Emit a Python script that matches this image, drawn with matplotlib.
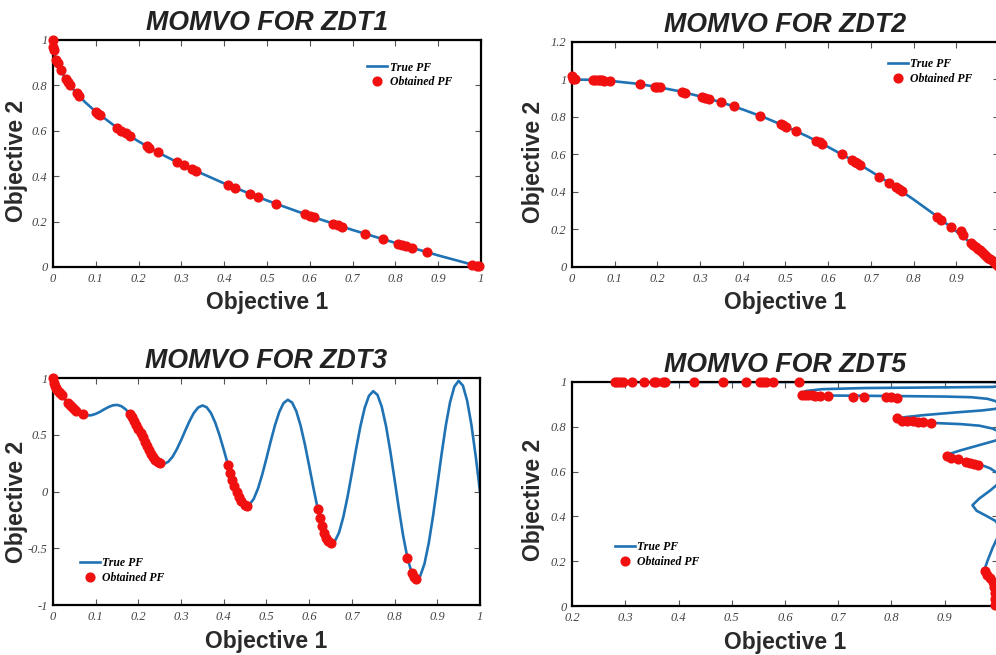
"""
MOMVO sobre los problemas ZDT1, ZDT2, ZDT3 y ZDT5.

Cuatro paneles: frente de Pareto verdadero (línea azul) contra el
frente obtenido (puntos rojos). Los paneles de la derecha quedan
cortados por el borde de la figura, igual que en la imagen original.
"""

import numpy as np
import matplotlib.pyplot as plt
from matplotlib.ticker import FuncFormatter

# --- ZDT1 ---
zdt1_true_x = [0.0, 0.001, 0.005, 0.01, 0.02, 0.035, 0.05, 0.075, 0.1, 0.15, 0.2, 0.25,
               0.3, 0.4, 0.5, 0.6, 0.7, 0.8, 0.9, 1.0]
zdt1_true_y = [1.0, 0.968, 0.929, 0.9, 0.859, 0.813, 0.776, 0.726, 0.684, 0.613, 0.553, 0.5,
               0.452, 0.368, 0.293, 0.225, 0.163, 0.106, 0.051, 0.0]
zdt1_obt_x = [0.0, 0.001, 0.002, 0.008, 0.012, 0.018, 0.03, 0.035, 0.04, 0.055, 0.06,
              0.1, 0.105, 0.11, 0.15, 0.16, 0.17, 0.18, 0.22, 0.225, 0.245, 0.29, 0.305,
              0.325, 0.335, 0.41, 0.425, 0.46, 0.48, 0.52, 0.59, 0.6, 0.61, 0.655, 0.665,
              0.675, 0.73, 0.77, 0.805, 0.815, 0.825, 0.84, 0.875, 0.98, 0.99, 0.995]
zdt1_obt_y = [1.0, 0.97, 0.956, 0.91, 0.9, 0.866, 0.826, 0.813, 0.8, 0.765, 0.755,
              0.684, 0.676, 0.668, 0.613, 0.6, 0.588, 0.576, 0.531, 0.526, 0.505, 0.461, 0.448,
              0.43, 0.421, 0.36, 0.348, 0.322, 0.307, 0.279, 0.232, 0.225, 0.219, 0.191, 0.185,
              0.178, 0.146, 0.123, 0.103, 0.097, 0.092, 0.083, 0.065, 0.01, 0.005, 0.003]

# --- ZDT2 ---
zdt2_true_x = [0.0, 0.05, 0.1, 0.15, 0.2, 0.25, 0.3, 0.35, 0.4, 0.45, 0.5, 0.55, 0.6,
               0.65, 0.7, 0.75, 0.8, 0.85, 0.9, 0.95, 1.0]
zdt2_true_y = [1.0, 0.998, 0.99, 0.978, 0.96, 0.938, 0.91, 0.878, 0.84, 0.798, 0.75, 0.698,
               0.64, 0.578, 0.51, 0.438, 0.36, 0.278, 0.19, 0.098, 0.0]
zdt2_obt_x = [0.0, 0.003, 0.008, 0.05, 0.055, 0.06, 0.065, 0.07, 0.075, 0.09, 0.16, 0.195,
              0.2, 0.205, 0.258, 0.265, 0.305, 0.312, 0.32, 0.35, 0.38, 0.44, 0.49, 0.495,
              0.502, 0.525, 0.572, 0.58, 0.585, 0.632, 0.655, 0.662, 0.668, 0.675, 0.72,
              0.742, 0.758, 0.765, 0.772, 0.855, 0.865, 0.888, 0.912, 0.915, 0.935, 0.94,
              0.945, 0.95, 0.955, 0.96, 0.965, 0.97, 0.975, 0.98, 0.985, 0.99, 0.995, 1.0]
zdt2_obt_y = [1.02, 1.0, 1.0, 0.998, 0.997, 0.996, 0.996, 0.995, 0.994, 0.992, 0.974, 0.962,
              0.96, 0.958, 0.933, 0.93, 0.907, 0.903, 0.898, 0.878, 0.856, 0.806, 0.76, 0.755,
              0.748, 0.724, 0.673, 0.664, 0.658, 0.6, 0.571, 0.562, 0.554, 0.544, 0.482,
              0.449, 0.425, 0.415, 0.404, 0.269, 0.252, 0.211, 0.19, 0.168, 0.126, 0.116,
              0.107, 0.098, 0.088, 0.078, 0.069, 0.059, 0.049, 0.04, 0.03, 0.02, 0.01, 0.0]

# --- ZDT3 ---
zdt3_true_x = [round(0.01 * i, 2) for i in range(101)]
zdt3_true_y = [1.0, 0.897, 0.847, 0.803, 0.762, 0.726, 0.698, 0.679, 0.670, 0.672,
               0.684, 0.702, 0.724, 0.744, 0.759, 0.763, 0.752, 0.725, 0.682, 0.623,
               0.553, 0.477, 0.402, 0.334, 0.282, 0.250, 0.243, 0.262, 0.306, 0.372,
               0.452, 0.539, 0.622, 0.693, 0.740, 0.758, 0.742, 0.691, 0.607, 0.496,
               0.368, 0.233, 0.105, -0.004, -0.082, -0.121, -0.115, -0.066, 0.025, 0.149,
               0.293, 0.444, 0.585, 0.701, 0.779, 0.808, 0.784, 0.706, 0.579, 0.414,
               0.225, 0.031, -0.152, -0.303, -0.409, -0.456, -0.440, -0.361, -0.224, -0.044,
               0.163, 0.377, 0.575, 0.737, 0.843, 0.884, 0.851, 0.746, 0.576, 0.355,
               0.106, -0.150, -0.388, -0.582, -0.715, -0.772, -0.745, -0.637, -0.455, -0.218,
               0.051, 0.327, 0.582, 0.788, 0.924, 0.975, 0.933, 0.800, 0.586, 0.311, 0.0]
zdt3_obt_x = [0.0, 0.002, 0.005, 0.008, 0.01, 0.013, 0.016, 0.02, 0.035, 0.04, 0.045,
              0.05, 0.055, 0.07,
              0.18, 0.185, 0.19, 0.195, 0.2, 0.205, 0.21, 0.215, 0.22, 0.225, 0.23, 0.235,
              0.24, 0.245, 0.25,
              0.41, 0.415, 0.42, 0.425, 0.43, 0.435, 0.44, 0.45, 0.455,
              0.62, 0.625, 0.63, 0.635, 0.64, 0.645, 0.65,
              0.83, 0.84, 0.845, 0.85]
zdt3_obt_y = [1.0, 0.955, 0.928, 0.909, 0.897, 0.881, 0.866, 0.847, 0.782, 0.762, 0.743,
              0.726, 0.711, 0.679,
              0.682, 0.654, 0.623, 0.589, 0.553, 0.515, 0.477, 0.439, 0.402, 0.367, 0.334,
              0.306, 0.282, 0.263, 0.25,
              0.233, 0.167, 0.105, 0.048, -0.004, -0.047, -0.082, -0.121, -0.124,
              -0.152, -0.232, -0.303, -0.363, -0.409, -0.44, -0.456,
              -0.582, -0.715, -0.754, -0.772]

# --- ZDT5 (curva leída punto a punto; parte de ella sale por la derecha) ---
zdt5_true_x = [0.28, 0.99, 1.005, 1.01, 1.005, 0.99, 0.9, 0.75, 0.67, 0.64, 0.63, 0.635,
               0.66, 0.72, 0.82, 0.9, 0.95, 0.98, 0.995, 1.005, 1.005, 0.995, 0.97, 0.92,
               0.86, 0.825, 0.81, 0.815, 0.84, 0.88, 0.93, 0.965, 0.99, 1.005, 1.01, 1.005,
               0.99, 0.96, 0.93, 0.91, 0.905, 0.915, 0.94, 0.965, 0.985, 0.998, 1.005, 1.0,
               0.985, 0.965, 0.952, 0.96, 0.98, 0.995, 1.005, 1.0, 0.99, 0.98, 0.975, 0.98,
               0.99, 0.993, 0.994, 0.994]
zdt5_true_y = [1.0, 1.0, 0.995, 0.99, 0.982, 0.978, 0.976, 0.973, 0.968, 0.96, 0.95, 0.943,
               0.94, 0.939, 0.937, 0.935, 0.932, 0.925, 0.915, 0.9, 0.89, 0.88, 0.873, 0.864,
               0.852, 0.843, 0.835, 0.828, 0.822, 0.817, 0.812, 0.805, 0.792, 0.775, 0.76, 0.745,
               0.735, 0.715, 0.695, 0.68, 0.67, 0.662, 0.648, 0.633, 0.615, 0.595, 0.57, 0.545,
               0.515, 0.48, 0.45, 0.425, 0.4, 0.38, 0.35, 0.31, 0.26, 0.2, 0.165, 0.14,
               0.115, 0.09, 0.05, 0.0]
zdt5_obt_x = [0.281, 0.285, 0.29, 0.295, 0.313, 0.335, 0.354, 0.358, 0.371, 0.375, 0.429,
              0.483, 0.526, 0.553, 0.558, 0.564, 0.577, 0.626,
              0.632, 0.638, 0.644, 0.65, 0.656, 0.665, 0.68, 0.727, 0.748, 0.789, 0.80, 0.81,
              0.81, 0.82, 0.83, 0.84, 0.85, 0.86, 0.875,
              0.904, 0.912, 0.925, 0.94, 0.948, 0.955, 0.963,
              0.975, 0.98, 0.985, 0.99, 0.993, 0.994, 0.994, 0.994]
zdt5_obt_y = [1.0, 1.0, 1.0, 1.0, 1.0, 1.0, 1.0, 1.0, 1.0, 1.0, 1.0,
              1.0, 1.0, 1.0, 1.0, 1.0, 1.0, 1.0,
              0.942, 0.941, 0.94, 0.94, 0.939, 0.938, 0.937, 0.935, 0.934, 0.932, 0.931, 0.93,
              0.84, 0.828, 0.826, 0.824, 0.822, 0.82, 0.818,
              0.67, 0.66, 0.655, 0.645, 0.64, 0.635, 0.63,
              0.155, 0.14, 0.125, 0.105, 0.085, 0.06, 0.03, 0.005]

BLUE = '#1f72b3'
RED = '#f01010'

plt.rcParams['font.family'] = 'Liberation Sans'


def fmt_tick(v, pos):
    # Etiquetas estilo MATLAB: sin ceros sobrantes
    return f'{v:g}'


def draw_panel(fig, rect, title, true_x, true_y, obt_x, obt_y,
               xlim, ylim, xticks, yticks, leg_anchor, ylab_pos):
    ax = fig.add_axes(rect)
    ax.plot(true_x, true_y, '-', color=BLUE, lw=1.9, label='True PF', zorder=2)
    ax.plot(obt_x, obt_y, 'o', color=RED, ms=6.3, mec=RED, label='Obtained PF',
            zorder=3, clip_on=False)

    ax.set_xlim(xlim)
    ax.set_ylim(ylim)
    ax.set_xticks(xticks)
    ax.set_yticks(yticks)
    ax.xaxis.set_major_formatter(FuncFormatter(fmt_tick))
    ax.yaxis.set_major_formatter(FuncFormatter(fmt_tick))
    ax.tick_params(direction='in', top=True, right=True, length=4, width=0.8,
                   color='#555555', labelcolor='#444444', pad=4)
    for lbl in ax.get_xticklabels() + ax.get_yticklabels():
        lbl.set_fontfamily('Liberation Serif')
        lbl.set_fontstyle('italic')
        lbl.set_fontsize(9)
    for sp in ax.spines.values():
        sp.set_linewidth(1.6)
        sp.set_color('black')

    ax.set_title(title, fontsize=19.3, fontweight='bold', fontstyle='italic',
                 color='#222222', pad=7)
    ax.set_xlabel('Objective 1', fontsize=16.5, fontweight='bold', color='#2a2a2a',
                  labelpad=5)
    ax.set_ylabel('Objective 2', fontsize=16.5, fontweight='bold', color='#2a2a2a')
    ax.yaxis.set_label_coords(*ylab_pos)

    ax.legend(loc='upper left', bbox_to_anchor=leg_anchor, frameon=False,
              borderpad=0, borderaxespad=0, handlelength=1.7,
              handletextpad=0.2, labelspacing=0.25,
              prop={'family': 'Liberation Serif', 'weight': 'bold',
                    'style': 'italic', 'size': 8.5})
    return ax


fig = plt.figure(figsize=(9.96, 6.55), dpi=100)

x01 = np.round(np.arange(0, 1.01, 0.1), 1)
x09 = np.round(np.arange(0, 0.91, 0.1), 1)  # el 1 queda fuera del recorte

draw_panel(fig, [0.0532, 0.5924, 0.4297, 0.3466], 'MOMVO FOR ZDT1',
           zdt1_true_x, zdt1_true_y, zdt1_obt_x, zdt1_obt_y,
           (0, 1), (0, 1), x01, np.round(np.arange(0, 1.01, 0.2), 1),
           (0.734, 0.905), (-0.058, 0.467))

draw_panel(fig, [0.5743, 0.5924, 0.4287, 0.3435], 'MOMVO FOR ZDT2',
           zdt2_true_x, zdt2_true_y, zdt2_obt_x, zdt2_obt_y,
           (0, 1), (0, 1.2), x09, np.round(np.arange(0, 1.21, 0.2), 1),
           (0.74, 0.93), (-0.063, 0.467))

draw_panel(fig, [0.0532, 0.0763, 0.4287, 0.3466], 'MOMVO FOR ZDT3',
           zdt3_true_x, zdt3_true_y, zdt3_obt_x, zdt3_obt_y,
           (0, 1), (-1, 1), x01, [-1, -0.5, 0, 0.5, 1],
           (0.063, 0.21), (-0.058, 0.454))

draw_panel(fig, [0.5743, 0.0748, 0.4277, 0.342], 'MOMVO FOR ZDT5',
           zdt5_true_x, zdt5_true_y, zdt5_obt_x, zdt5_obt_y,
           (0.2, 1), (0, 1), np.round(np.arange(0.2, 0.91, 0.1), 1),
           np.round(np.arange(0, 1.01, 0.2), 1), (0.10, 0.29), (-0.063, 0.473))

plt.savefig('out.png', dpi=100)
plt.close()
